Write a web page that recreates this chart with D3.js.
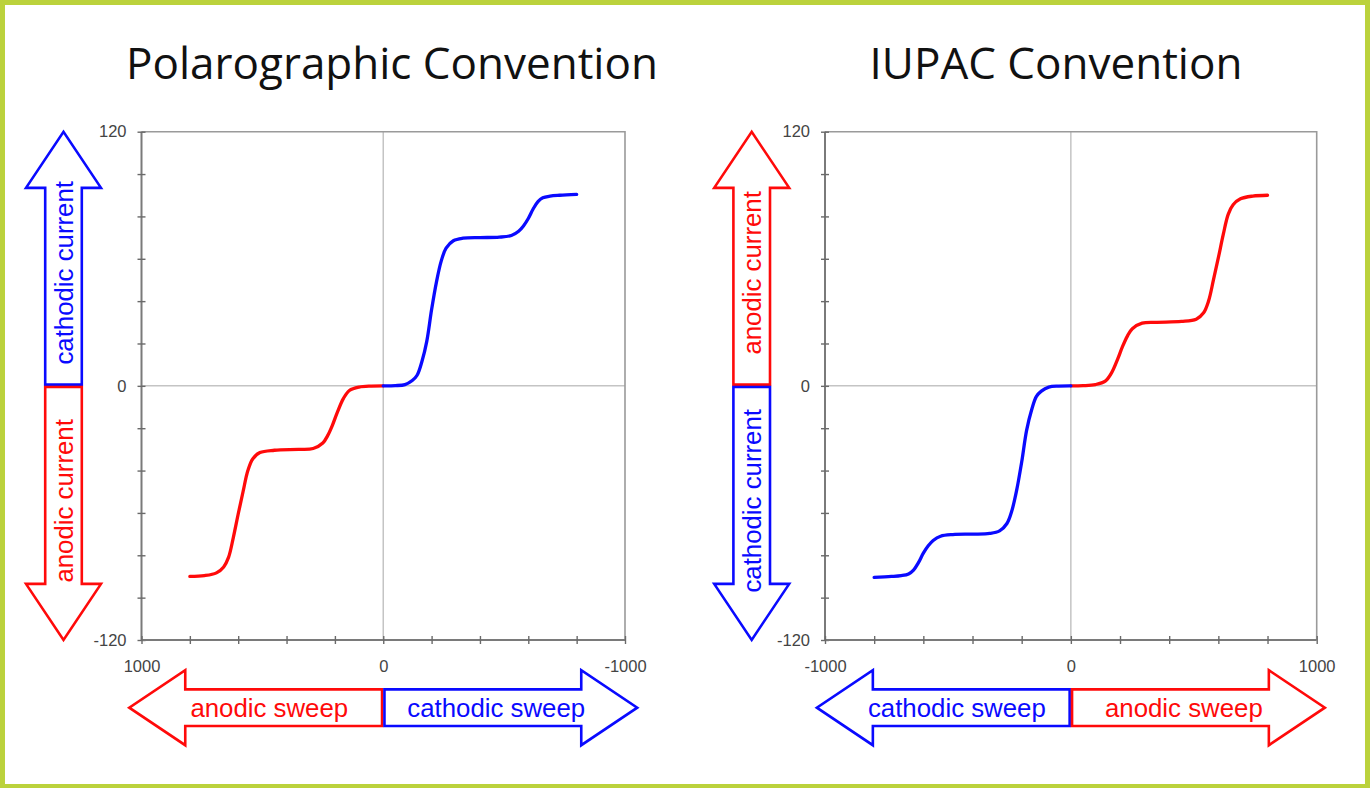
<!DOCTYPE html>
<html>
<head>
<meta charset="utf-8">
<script src="https://cdn.jsdelivr.net/npm/d3@7"></script>
<style>
  html, body { margin: 0; padding: 0; background: #fff; }
  svg { display: block; }
</style>
</head>
<body>
<svg id="chart" width="1370" height="788"></svg>
<script>
// Potential (mV) and current values of the two voltammetric branches.
// Currents are magnitudes; each convention applies its own sign.
const cathodicE = [0, -50, -90, -120, -140, -160, -180, -200, -220, -240, -260, -290, -330, -400, -480, -530, -560, -580, -600, -620, -640, -660, -690, -730, -800];
const cathodicI = [0, 0.1, 0.6, 2.5, 5, 11.5, 21, 36, 49, 59, 65, 68.5, 69.7, 70, 70.2, 71, 73, 75.5, 79, 83.5, 87, 88.8, 89.6, 90, 90.4];
const anodicE = [0, 50, 100, 140, 165, 190, 210, 230, 250, 290, 350, 450, 510, 540, 560, 580, 600, 620, 640, 660, 690, 740, 800];
const anodicI = [0, 0.1, 0.6, 2.2, 6, 12.5, 18.5, 23.5, 27, 29.6, 30, 30.4, 31.5, 34.5, 40, 50, 60.5, 71.5, 81, 85.5, 88.3, 89.6, 90];

// Axis ticks and labels
const potentialTicks = d3.range(-1000, 1001, 200);
const currentTicks = d3.range(-120, 121, 20);
const labeledPotentials = [-1000, 0, 1000];
const labeledCurrents = [-120, 0, 120];

// Titles and arrow captions
const titles = ["Polarographic Convention", "IUPAC Convention"];
const currentLabels = [["cathodic current", "anodic current"], ["anodic current", "cathodic current"]];
const sweepLabels = [["anodic sweep", "cathodic sweep"], ["cathodic sweep", "anodic sweep"]];

const BLUE = "#0a0aff", RED = "#ff0a0a";

const panels = [
  {
    title: titles[0], titleX: 392,
    x0: 141.5, x1: 625, xDomain: [1000, -1000],
    arrowX: 63.5,
    cathodicSign: 1, anodicSign: -1,
    up: { text: currentLabels[0][0], color: BLUE },
    down: { text: currentLabels[0][1], color: RED },
    left: { text: sweepLabels[0][0], color: RED },
    right: { text: sweepLabels[0][1], color: BLUE }
  },
  {
    title: titles[1], titleX: 1056,
    x0: 825, x1: 1316.7, xDomain: [-1000, 1000],
    arrowX: 751.7,
    cathodicSign: -1, anodicSign: 1,
    up: { text: currentLabels[1][0], color: RED },
    down: { text: currentLabels[1][1], color: BLUE },
    left: { text: sweepLabels[1][0], color: BLUE },
    right: { text: sweepLabels[1][1], color: RED }
  }
];

const svg = d3.select("#chart");
const W = 1370, H = 788;

// Frame
svg.append("rect").attr("width", W).attr("height", H).attr("fill", "#bbd23c");
svg.append("rect").attr("x", 5).attr("y", 5).attr("width", W - 10).attr("height", H - 9).attr("fill", "#fff");

const y0 = 131.7, y1 = 640;
const arrowY = 707.7;

// Block arrow half: points along +x from the split, rotated into place
function halfArrow(g, sx, sy, angle, color) {
  const L = 254, head = 56, shaft = 18.3, wing = 37.5, gap = 1.2;
  const pts = [[gap, -shaft], [L - head, -shaft], [L - head, -wing], [L, 0],
               [L - head, wing], [L - head, shaft], [gap, shaft]];
  g.append("polygon")
    .attr("points", pts.map(p => p.join(",")).join(" "))
    .attr("transform", `translate(${sx},${sy}) rotate(${angle})`)
    .attr("fill", "#fff")
    .attr("stroke", color)
    .attr("stroke-width", 2.6)
    .attr("stroke-linejoin", "miter");
}

function caption(g, cx, cy, rotate, spec) {
  g.append("text")
    .attr("transform", `translate(${cx},${cy}) rotate(${rotate})`)
    .attr("y", 9.5)
    .attr("text-anchor", "middle")
    .attr("font-family", "'Liberation Sans', Arial, sans-serif")
    .attr("font-size", 25.8)
    .attr("fill", spec.color)
    .text(spec.text);
}

panels.forEach(p => {
  const g = svg.append("g");
  const x = d3.scaleLinear().domain(p.xDomain).range([p.x0, p.x1]);
  const y = d3.scaleLinear().domain([-120, 120]).range([y1, y0]);

  // Title
  g.append("text")
    .attr("x", p.titleX).attr("y", 79)
    .attr("text-anchor", "middle")
    .attr("font-family", "'Open Sans', 'Noto Sans', sans-serif")
    .attr("font-size", 44)
    .attr("fill", "#111")
    .text(p.title);

  // Zero lines
  g.append("line").attr("x1", x(0)).attr("x2", x(0)).attr("y1", y0).attr("y2", y1)
    .attr("stroke", "#c4c4c4").attr("stroke-width", 1.5);
  g.append("line").attr("x1", p.x0).attr("x2", p.x1).attr("y1", y(0)).attr("y2", y(0))
    .attr("stroke", "#c4c4c4").attr("stroke-width", 1.5);

  // Top and right frame
  g.append("path")
    .attr("d", `M${p.x0},${y0}H${p.x1}V${y1}`)
    .attr("fill", "none").attr("stroke", "#9a9a9a").attr("stroke-width", 1.6);

  // Axes
  const fmtY = d => labeledCurrents.includes(d) ? d : "";
  const fmtX = d => labeledPotentials.includes(d) ? d : "";
  const axY = g.append("g").attr("transform", `translate(${p.x0},0)`)
    .call(d3.axisLeft(y).tickValues(currentTicks).tickSize(4).tickPadding(11).tickFormat(fmtY));
  const axX = g.append("g").attr("transform", `translate(0,${y1})`)
    .call(d3.axisBottom(x).tickValues(potentialTicks).tickSize(4).tickPadding(16.6).tickFormat(fmtX));
  [axY, axX].forEach(ax => {
    ax.select(".domain").attr("stroke", "#7a7a7a").attr("stroke-width", 2);
    ax.selectAll(".tick line").attr("stroke", "#6a6a6a").attr("stroke-width", 1.4);
    ax.selectAll("text")
      .attr("font-family", "'Liberation Sans', Arial, sans-serif")
      .attr("font-size", 16.5).attr("fill", "#444");
  });
  axY.select(".domain").attr("d", `M0,${y0}V${y1}`);
  axX.select(".domain").attr("d", `M${p.x0},0H${p.x1}`);
  axY.selectAll(".tick line").attr("x1", 4).attr("x2", -4);
  axX.selectAll(".tick line").attr("y1", -4).attr("y2", 4);

  // Curves
  const line = d3.line().x(d => x(d[0])).y(d => y(d[1])).curve(d3.curveCatmullRom.alpha(0.5));
  const cath = cathodicE.map((e, i) => [e, p.cathodicSign * cathodicI[i]]);
  const anod = anodicE.map((e, i) => [e, p.anodicSign * anodicI[i]]);
  g.append("path").datum(anod).attr("d", line)
    .attr("fill", "none").attr("stroke", RED).attr("stroke-width", 3.3).attr("stroke-linecap", "round");
  g.append("path").datum(cath).attr("d", line)
    .attr("fill", "none").attr("stroke", BLUE).attr("stroke-width", 3.3).attr("stroke-linecap", "round");

  // Current arrows (split at zero current)
  const sy = y(0);
  halfArrow(g, p.arrowX, sy, -90, p.up.color);
  halfArrow(g, p.arrowX, sy, 90, p.down.color);
  caption(g, p.arrowX, sy - 113, -90, p.up);
  caption(g, p.arrowX, sy + 115, -90, p.down);

  // Sweep arrows (split at zero potential)
  const sx = x(0);
  halfArrow(g, sx, arrowY, 180, p.left.color);
  halfArrow(g, sx, arrowY, 0, p.right.color);
  caption(g, sx - 114, arrowY, 0, p.left);
  caption(g, sx + 113, arrowY, 0, p.right);
});
</script>
</body>
</html>
